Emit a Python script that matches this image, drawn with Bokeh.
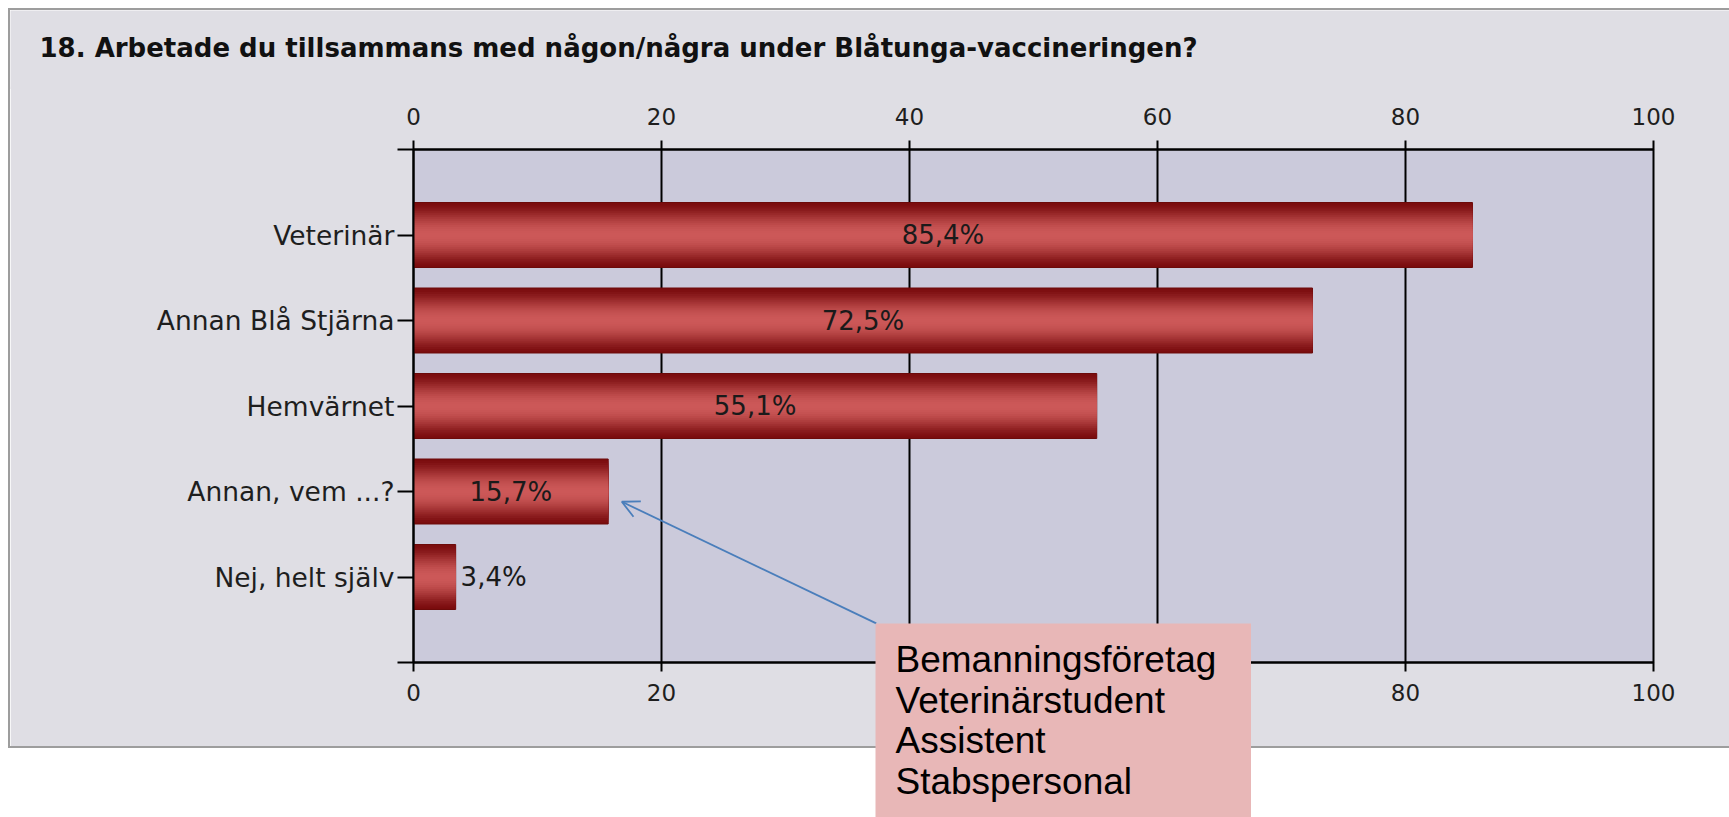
from bokeh.plotting import figure
from bokeh.layouts import column
from bokeh.models import (Range1d, LinearAxis, FixedTicker, Label, Arrow, OpenHead,
                          ColumnDataSource, Grid)
from bokeh.embed import file_html
from bokeh.resources import INLINE
from bokeh.core.properties import value

# ---------------- data ----------------
title_text = "18. Arbetade du tillsammans med någon/några under Blåtunga-vaccineringen?"
categories = ["Veterinär", "Annan Blå Stjärna", "Hemvärnet", "Annan, vem ...?", "Nej, helt själv"]
percent = [85.4, 72.5, 55.1, 15.7, 3.4]
x_ticks = [0, 20, 40, 60, 80, 100]
note_lines = ["Bemanningsföretag", "Veterinärstudent", "Assistent", "Stabspersonal"]
note_target = "Annan, vem ...?"

# ---------------- layout (page pixels) ----------------
OUTER_BG = "#dfdee4"
FRAME_BG = "#cbcadb"
BORDER = "2px solid #9d9d9d"
PAD = 8                        # white page margin round the gray box
HEAD_H = 81                    # header host height (incl. 2px top border)
OVERLAP = 3                    # main chart slides under the header by this much
BOX_BOTTOM = 746               # page y of the gray box's bottom edge
W = 1721                       # host width (incl. 2px left border)
FRAME_L, FRAME_T, FW, FH = 413, 149, 1238, 511
NOTE_L, NOTE_T, NOTE_W, NOTE_H = 875, 621, 376, 196

MAIN_TOP = PAD + HEAD_H - OVERLAP
MAIN_H = BOX_BOTTOM - MAIN_TOP
CANVAS_L = PAD + 2

n = len(categories)
pos = list(range(1, n + 1))

# ---------------- header with title ----------------
p_head = figure(width=W, height=HEAD_H, x_range=Range1d(0, W - 2),
                y_range=Range1d(HEAD_H - 2, 0),
                min_border_left=0, min_border_right=0, min_border_top=0, min_border_bottom=0,
                x_axis_location=None, y_axis_location=None,
                toolbar_location=None, output_backend="svg",
                background_fill_color=OUTER_BG, border_fill_color=OUTER_BG,
                outline_line_color=None, margin=(PAD, 0, -OVERLAP, PAD))
p_head.grid.visible = False
p_head.styles = {"border-top": BORDER, "border-left": BORDER}
p_head.add_layout(Label(x=39 - CANVAS_L, y=47 - (PAD + 2), text=title_text,
                        text_font="DejaVu Sans", text_font_style="bold",
                        text_font_size="26px", text_color="#111111",
                        text_baseline="middle", text_align="left"))

# ---------------- main chart ----------------
p = figure(frame_width=FW, frame_height=FH,
           min_border_left=FRAME_L - CANVAS_L,
           min_border_right=W - 2 - (FRAME_L - CANVAS_L) - FW,
           min_border_top=FRAME_T - MAIN_TOP,
           min_border_bottom=MAIN_H - (FRAME_T - MAIN_TOP) - FH,
           x_range=Range1d(0, 100), y_range=Range1d(n + 1, 0),
           x_axis_location=None, y_axis_location="left",
           toolbar_location=None, output_backend="svg",
           background_fill_color=FRAME_BG, border_fill_color=OUTER_BG,
           outline_line_color="black", outline_line_width=2)
p.grid.visible = False
p.styles = {"border-left": BORDER, "border-bottom": BORDER}

p.add_layout(Grid(dimension=0, ticker=FixedTicker(ticks=x_ticks),
                  grid_line_color="black", grid_line_width=2))


def style_x(ax, standoff):
    ax.ticker = FixedTicker(ticks=x_ticks)
    ax.major_tick_out = 9
    ax.major_tick_in = 0
    ax.minor_tick_out = 0
    ax.minor_tick_in = 0
    ax.axis_line_color = "black"
    ax.axis_line_width = 2
    ax.major_tick_line_color = "black"
    ax.major_tick_line_width = 2
    ax.major_label_text_font = "DejaVu Sans"
    ax.major_label_text_font_size = "23px"
    ax.major_label_text_color = "#1e1e1e"
    ax.major_label_standoff = standoff


top_ax = LinearAxis()
style_x(top_ax, 16)
p.add_layout(top_ax, "above")
bot_ax = LinearAxis()
style_x(bot_ax, 12)
p.add_layout(bot_ax, "below")

yax = p.yaxis[0]
yax.ticker = FixedTicker(ticks=list(range(0, n + 2)))
overrides = {0: "", n + 1: ""}
for i, c in enumerate(categories):
    overrides[i + 1] = c
yax.major_label_overrides = overrides
yax.major_tick_out = 16
yax.major_tick_in = 0
yax.minor_tick_out = 0
yax.minor_tick_in = 0
yax.axis_line_color = "black"
yax.axis_line_width = 2
yax.major_tick_line_color = "black"
yax.major_tick_line_width = 2
yax.major_label_text_font = "DejaVu Sans"
yax.major_label_text_font_size = "26.5px"
yax.major_label_text_color = "#1e1e1e"
yax.major_label_standoff = 3

# bars, shaded like a cylinder
src = ColumnDataSource(dict(y=pos, right=percent))
BAR_H = 0.76
edge = (122, 12, 14)
mid = (204, 88, 88)
N = 16
for k in range(N):
    frac = 1 - k / N
    d = 1 - (k + 0.5) / N
    t = max(0.0, 1 - d ** 2) ** 1.8
    col = "#%02x%02x%02x" % tuple(int(round(edge[j] + (mid[j] - edge[j]) * t)) for j in range(3))
    p.hbar(y="y", right="right", left=0, height=BAR_H * frac, source=src,
           fill_color=col, line_color="#6c0a0a" if k == 0 else None, line_width=1)

# value labels
fmt = [("%.1f" % v).replace(".", ",") + "%" for v in percent]
inside = dict(x=[], y=[], t=[])
outside = dict(x=[], y=[], t=[])
for v, y, s in zip(percent, pos, fmt):
    if v >= 10:
        inside["x"].append(v / 2); inside["y"].append(y); inside["t"].append(s)
    else:
        outside["x"].append(v + 0.4); outside["y"].append(y); outside["t"].append(s)
p.text(x="x", y="y", text="t", source=ColumnDataSource(inside),
       text_font=value("DejaVu Sans"), text_font_size="26px", text_color="#1a1a1a",
       text_align="center", text_baseline="middle")
p.text(x="x", y="y", text="t", source=ColumnDataSource(outside),
       text_font=value("DejaVu Sans"), text_font_size="26px", text_color="#1a1a1a",
       text_align="left", text_baseline="middle")

# arrow from the note box corner to the bar it explains
ti = categories.index(note_target)
ax_start = (NOTE_L - FRAME_L) / FW * 100
ay_start = (NOTE_T - FRAME_T) / FH * (n + 1)
p.add_layout(Arrow(end=OpenHead(size=17, line_color="#4a7ebb", line_width=1.8),
                   x_start=ax_start, y_start=ay_start,
                   x_end=percent[ti] + 1.1, y_end=pos[ti] + 0.12,
                   line_color="#4a7ebb", line_width=1.8))

main_col = column(p, margin=(0, 0, 0, PAD))

# ---------------- note box (overlaid) ----------------
p_note = figure(width=NOTE_W, height=NOTE_H, x_range=Range1d(0, NOTE_W),
                y_range=Range1d(NOTE_H, 0),
                min_border_left=0, min_border_right=0, min_border_top=0, min_border_bottom=0,
                x_axis_location=None, y_axis_location=None,
                toolbar_location=None, output_backend="svg",
                background_fill_color="#e8b7b7", border_fill_color="#e8b7b7",
                outline_line_color=None,
                margin=(NOTE_T - BOX_BOTTOM, 0, -8, NOTE_L))
p_note.grid.visible = False
p_note.styles = {"z-index": "10"}
first_mid, spacing = 657 - NOTE_T, 40.5
note_src = ColumnDataSource(dict(x=[20] * len(note_lines),
                                 y=[first_mid + i * spacing for i in range(len(note_lines))],
                                 t=note_lines))
p_note.text(x="x", y="y", text="t", source=note_src,
            text_font=value("Liberation Sans"), text_font_size="37px",
            text_color="black", text_align="left", text_baseline="middle")

root = column(p_head, main_col, p_note)

open("out.html", "w").write(file_html(root, INLINE, title="chart"))
